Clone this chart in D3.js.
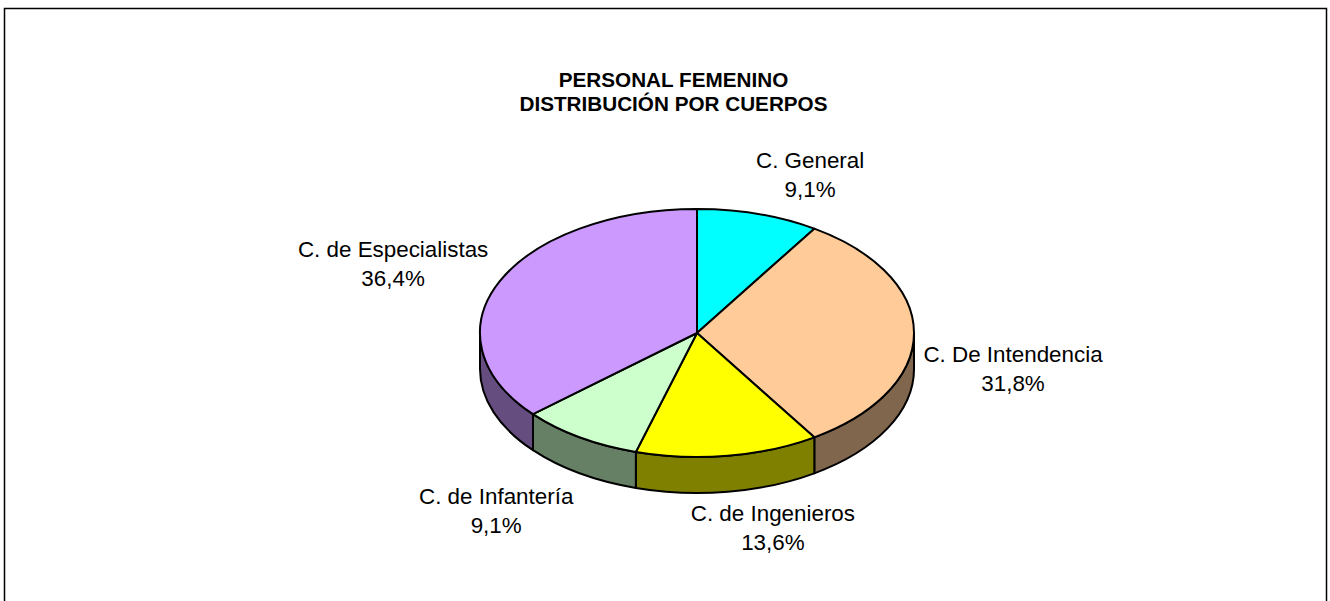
<!DOCTYPE html>
<html>
<head>
<meta charset="utf-8">
<script src="https://cdn.jsdelivr.net/npm/d3@7"></script>
<style>
  body { margin: 0; background: #fff; }
  svg text { font-family: Arial, "Liberation Sans", sans-serif; fill: #000; }
</style>
</head>
<body>
<svg id="chart"></svg>
<script>
// data
const categories = ['C. General', 'C. De Intendencia', 'C. de Ingenieros', 'C. de Infantería', 'C. de Especialistas'];
const counts = [2, 7, 3, 2, 8];
const pctLabels = ['9,1%', '31,8%', '13,6%', '9,1%', '36,4%'];
const titleLines = ['PERSONAL FEMENINO', 'DISTRIBUCIÓN POR CUERPOS'];

// layout
const width = 1330, height = 601;
const cx = 697, cy = 333, rx = 217, ry = 124, depth = 36;
const colors = ['#00FFFF', '#FFCC99', '#FFFF00', '#CCFFCC', '#CC99FF'];
// label offset from the rim point at each slice's mid angle
const labelNudge = [[52, -31.5], [99, 43.5], [45, 80], [-83.5, 81], [-106.5, -9.5]];

const svg = d3.select('#chart')
    .attr('width', width)
    .attr('height', height);

// outer frame (bottom edge runs off the picture)
svg.append('rect')
    .attr('x', 4.5).attr('y', 8.5)
    .attr('width', 1322).attr('height', 620)
    .attr('fill', 'none')
    .attr('stroke', '#000')
    .attr('stroke-width', 1.5);

svg.append('text')
    .attr('text-anchor', 'middle')
    .style('font-weight', 'bold')
    .style('font-size', '20.7px')
    .selectAll('tspan')
    .data(titleLines)
    .join('tspan')
    .attr('x', 673.5)
    .attr('y', (d, i) => 87 + i * 24)
    .text(d => d);

const pie = d3.pie().sort(null).value(d => d)
    .startAngle(0).endAngle(2 * Math.PI);
const arcs = pie(counts);

const pt = (a, dy = 0) => [cx + rx * Math.sin(a), cy - ry * Math.cos(a) + dy];

function topPath(d) {
    const p0 = pt(d.startAngle), p1 = pt(d.endAngle);
    const large = d.endAngle - d.startAngle > Math.PI ? 1 : 0;
    return `M${cx},${cy}L${p0}A${rx},${ry} 0 ${large} 1 ${p1}Z`;
}

// visible front wall of a slice (angles between 3 and 9 o'clock)
function sidePath(d) {
    const a0 = Math.max(d.startAngle, Math.PI / 2);
    const a1 = Math.min(d.endAngle, 3 * Math.PI / 2);
    if (a1 <= a0) return null;
    const p0 = pt(a0), p1 = pt(a1), q0 = pt(a0, depth), q1 = pt(a1, depth);
    return `M${p0}A${rx},${ry} 0 0 1 ${p1}L${q1}A${rx},${ry} 0 0 0 ${q0}Z`;
}

const pieG = svg.append('g');

pieG.selectAll('.side')
    .data(arcs.filter(d => sidePath(d)))
    .join('path')
    .attr('class', 'side')
    .attr('d', sidePath)
    .attr('fill', d => {
        const c = d3.rgb(colors[d.index]);
        return d3.rgb(c.r * 0.5, c.g * 0.5, c.b * 0.5);
    })
    .attr('stroke', '#000')
    .attr('stroke-width', 2)
    .attr('stroke-linejoin', 'round');

pieG.selectAll('.top')
    .data(arcs)
    .join('path')
    .attr('class', 'top')
    .attr('d', topPath)
    .attr('fill', d => colors[d.index])
    .attr('stroke', '#000')
    .attr('stroke-width', 2)
    .attr('stroke-linejoin', 'round');

// labels
const labels = svg.append('g')
    .style('font-size', '22.4px')
    .attr('text-anchor', 'middle');

arcs.forEach((d, i) => {
    const mid = (d.startAngle + d.endAngle) / 2;
    const [px, py] = pt(mid);
    const lx = px + labelNudge[i][0];
    const ly = py + labelNudge[i][1];
    const t = labels.append('text');
    t.append('tspan').attr('x', lx).attr('y', ly - 14.5).text(categories[i]);
    t.append('tspan').attr('x', lx).attr('y', ly + 14.5).text(pctLabels[i]);
});
</script>
</body>
</html>
